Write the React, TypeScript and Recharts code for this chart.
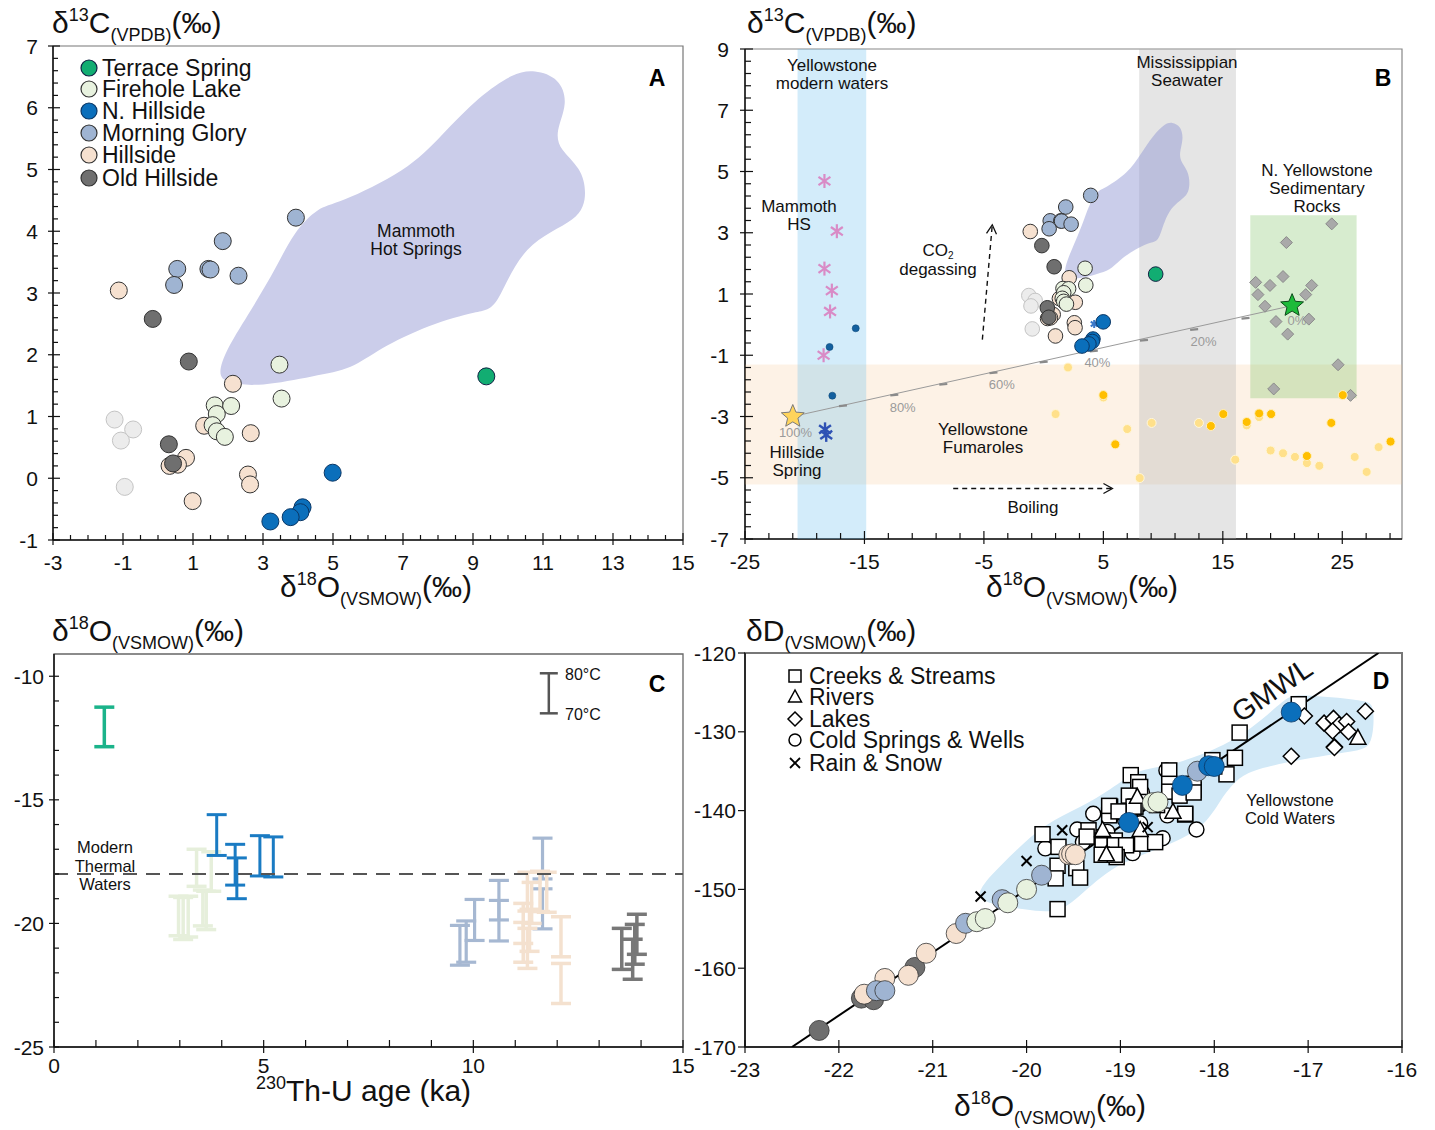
import React from 'react';
import { ScatterChart, Scatter, XAxis, YAxis, ErrorBar, ReferenceArea } from 'recharts';

const FONT = '"Liberation Sans", Arial, Helvetica, sans-serif';

// ---------------- Panel A / B shared data: d18O (x) vs d13C (y) ----------------
const terrace = [[9.38, 1.65]];
const firehole = [[3.47, 1.84], [3.53, 1.29], [1.62, 1.18], [2.09, 1.17], [1.68, 1.04], [1.56, 0.86], [1.68, 0.76], [1.91, 0.67]];
const nHillside = [[4.99, 0.09], [4.13, -0.47], [4.07, -0.55], [3.79, -0.63], [3.21, -0.7]];
const morningGlory = [[3.94, 4.22], [1.85, 3.84], [0.55, 3.39], [1.44, 3.39], [1.5, 3.38], [2.3, 3.28], [0.46, 3.13]];
const hillside = [[-1.12, 3.04], [2.14, 1.53], [1.32, 0.85], [2.65, 0.73], [0.8, 0.33], [0.33, 0.2], [0.57, 0.22], [2.57, 0.06], [2.63, -0.1], [0.99, -0.37]];
const oldHillside = [[-0.15, 2.58], [0.88, 1.89], [0.31, 0.55], [0.43, 0.24]];
const otherSamples = [[-1.24, 0.95], [-0.71, 0.79], [-1.06, 0.61], [-0.95, -0.14]];
const mammothField = [[1.7, 1.68], [1.95, 2.09], [2.67, 2.73], [3.39, 3.42], [3.88, 3.99], [4.6, 4.4], [5.08, 4.43], [7.13, 4.98], [8.1, 5.55], [9.18, 6.19], [10.15, 6.56], [10.75, 6.62], [11.48, 6.48], [11.72, 6.07], [11.35, 5.61], [11.48, 5.32], [12.08, 5.03], [12.26, 4.63], [12.08, 4.17], [10.39, 3.82], [9.67, 2.72], [9.18, 2.72], [7.74, 2.49], [6.29, 2.09], [5.56, 1.77], [4.48, 1.66], [2.91, 1.48], [1.95, 1.54]];

// ---------------- Panel B extra data ----------------
const bandModernWaters = [[-20.6, -7], [-14.85, -7], [-14.85, 9], [-20.6, 9]];
const bandSeawater = [[8.0, -7], [16.1, -7], [16.1, 9], [8.0, 9]];
const bandFumaroles = [[-25, -5.22], [30, -5.22], [30, -1.3], [-25, -1.3]];
const boxSedimentary = [[17.3, -2.4], [26.2, -2.4], [26.2, 3.57], [17.3, 3.57]];
const mammothHS = [[-18.35, 4.69], [-17.31, 3.05], [-18.35, 1.83], [-17.73, 1.11], [-17.88, 0.43], [-18.42, -1.0]];
const smallBlue = [[-15.73, -0.12], [-17.92, -0.73], [-17.69, -2.32]];
const hillsideSpring = [[-18.3, -3.42], [-18.2, -3.6]];
const blueStar = [[4.23, 0.02]];
const fumarolesPale = [[2.04, -1.4], [5.0, -2.38], [1.0, -2.92], [7.0, -3.41], [9.04, -3.21], [13.0, -3.21], [17.0, -3.29], [18.04, -3.02], [16.04, -4.41], [8.04, -5.01], [19.0, -4.11], [20.04, -4.2], [21.04, -4.32], [22.04, -4.52], [23.08, -4.61], [26.04, -4.32], [27.04, -4.81], [28.04, -4.0]];
const fumarolesOrange = [[5.0, -2.3], [6.0, -3.91], [14.0, -3.31], [15.04, -2.92], [17.0, -3.18], [18.04, -2.9], [19.04, -2.92], [24.08, -3.21], [25.04, -2.3], [22.04, -4.29], [29.04, -3.82]];
const sedimentaryRocks = [[24.12, 3.29], [20.32, 2.68], [20.04, 1.57], [17.75, 1.38], [18.95, 1.28], [22.44, 1.28], [17.94, 0.98], [21.94, 0.98], [18.53, 0.6], [22.2, 0.18], [19.45, 0.1], [20.43, -0.31], [24.65, -1.31], [19.26, -2.1], [25.69, -2.31]];
const endHillside = [[-21.0, -3.0]];
const endSediment = [[20.8, 0.62]];
const mixLine = [[-21.0, -3.0], [20.8, 0.62]];
const mixTicks = [[-16.8, -2.65], [-12.5, -2.3], [-8.4, -1.95], [-4.2, -1.57], [0, -1.22], [4.2, -0.86], [8.4, -0.51], [12.6, -0.16], [16.9, 0.21]];
const mixLabelX = [-20.77, -11.8, -3.5, 4.5, 13.38, 21.2];
const mixLabelY = [-3.52, -2.71, -1.97, -1.25, -0.56, 0.15];
const mixLabelText = ['100%', '80%', '60%', '40%', '20%', '0%'];
const arrowCO2 = [[-5.13, -0.49], [-4.3, 3.26]];
const arrowBoiling = [[-7.57, -5.35], [5.76, -5.35]];

// ---------------- Panel C data: [age ka, upper d18O, lower d18O] ----------------
const cTerrace = [[1.2, -11.25, -12.85]];
const cFirehole = [[3.4, -17.0, -18.5], [3.75, -17.1, -18.7], [2.97, -18.9, -20.5], [3.08, -18.95, -20.65], [3.2, -18.9, -20.55], [3.55, -18.65, -20.1], [3.63, -18.7, -20.25]];
const cNHillside = [[3.88, -15.6, -17.25], [4.32, -16.8, -18.45], [4.36, -17.35, -19.0], [4.91, -16.45, -18.08], [5.23, -16.5, -18.12]];
const cMorningGlory = [[9.68, -20.08, -21.69], [9.83, -19.9, -21.57], [10.03, -19.03, -20.69], [10.61, -18.26, -19.86], [10.61, -19.07, -20.71], [11.65, -16.55, -18.2], [11.65, -18.6, -20.22]];
const cHillside = [[11.19, -19.19, -20.81], [11.19, -19.96, -21.57], [11.29, -17.93, -19.5], [11.29, -20.2, -21.82], [11.39, -18.34, -20.0], [11.59, -17.89, -19.52], [11.75, -17.93, -19.55], [12.09, -19.73, -21.35], [12.09, -21.62, -23.24], [11.34, -19.43, -21.13]];
const cOldHillside = [[13.54, -20.2, -21.86], [13.9, -19.63, -21.25], [13.85, -20.04, -21.65], [13.8, -20.64, -22.26]];
const cScaleBar = [[11.8, -9.88, -11.5]];
const modernThermal = -18.0;

// ---------------- Panel D data: d18O (x) vs dD (y) ----------------
const creeks = [[-17.73, -130.1], [-17.78, -133.3], [-17.1, -126.5], [-17.87, -135.4], [-18.31, -140.5], [-18.22, -137.4], [-18.22, -136.6], [-18.02, -133.6], [-18.48, -134.9], [-18.48, -136.6], [-18.48, -137.6], [-18.37, -138.1], [-18.89, -135.5], [-18.81, -136.4], [-18.79, -137.0], [-18.91, -138.1], [-18.84, -139.5], [-19.11, -139.5], [-19.01, -140.2], [-19.12, -140.6], [-18.61, -139.3], [-19.83, -143.0], [-19.34, -142.5], [-19.36, -143.3], [-19.19, -143.8], [-19.19, -144.4], [-19.06, -143.8], [-19.06, -144.4], [-18.94, -144.4], [-18.77, -144.2], [-18.63, -144.0], [-19.66, -144.6], [-19.67, -147.0], [-19.69, -148.6], [-19.47, -147.3], [-19.43, -148.5], [-19.67, -152.5], [-19.04, -145.9], [-19.2, -145.6], [-19.06, -145.6], [-18.86, -139.5], [-18.22, -137.7], [-18.31, -140.4], [-19.12, -139.4], [-19.02, -140.1], [-18.0, -134.4]];
const rivers = [[-18.44, -140.2], [-19.15, -145.6], [-19.19, -142.5], [-18.79, -142.5], [-18.82, -138.3], [-16.47, -130.8]];
const lakes = [[-17.04, -128.0], [-16.83, -128.9], [-16.73, -128.3], [-16.67, -129.1], [-16.59, -128.7], [-16.74, -129.9], [-16.57, -130.0], [-16.39, -127.4], [-17.18, -133.1], [-16.72, -131.9], [-16.72, -132.0]];
const coldSprings = [[-19.29, -140.4], [-19.46, -142.4], [-19.8, -144.8], [-18.19, -142.4], [-18.55, -143.5], [-18.87, -145.4], [-18.79, -141.6], [-18.77, -137.7], [-18.5, -140.6], [-19.14, -142.7], [-19.22, -143.3], [-18.51, -134.9], [-19.4, -144.0], [-18.95, -141.2]];
const rainSnow = [[-20.49, -150.9], [-20.0, -146.4], [-19.62, -142.5], [-18.71, -142.1]];
const dOldHillside = [[-22.21, -167.9], [-21.76, -163.8], [-21.63, -164.0], [-21.19, -159.9]];
const dHillside = [[-21.73, -163.3], [-21.51, -161.3], [-21.26, -160.9], [-21.07, -158.1], [-20.75, -155.6], [-19.55, -145.6], [-19.52, -145.5], [-19.48, -145.6]];
const dMorningGlory = [[-21.6, -162.85], [-21.51, -162.85], [-20.65, -154.3], [-20.26, -151.3], [-19.84, -148.2], [-18.18, -135.0]];
const dFirehole = [[-20.53, -154.1], [-20.44, -153.7], [-20.2, -151.7], [-20.0, -150.0], [-18.66, -139.0], [-18.6, -138.9]];
const dNHillside = [[-18.91, -141.5], [-18.34, -136.8], [-18.06, -134.3], [-18.0, -134.4], [-17.18, -127.5]];
const gmwl = [[-22.5, -170], [-16.25, -120]];
const coldWatersField = [[-20.55, -150.9], [-20.4, -148.4], [-20.11, -145.0], [-19.81, -141.7], [-19.41, -139.5], [-19.11, -137.4], [-18.81, -134.7], [-18.52, -134.5], [-18.22, -133.2], [-18.02, -132.4], [-17.62, -129.9], [-17.23, -125.6], [-17.13, -125.2], [-16.38, -126.0], [-16.29, -126.5], [-16.31, -132.0], [-16.48, -132.4], [-17.13, -133.6], [-17.62, -134.9], [-17.77, -136.2], [-17.92, -138.3], [-18.12, -142.5], [-18.62, -145.0], [-19.11, -147.1], [-19.51, -151.8], [-19.71, -153.0], [-20.01, -152.6], [-20.4, -151.8]];

// ---------------- Axis tick labels ----------------
const aXMajor = [-3, -1, 1, 3, 5, 7, 9, 11, 13, 15];
const aYMajor = [-1, 0, 1, 2, 3, 4, 5, 6, 7];
const bXMajor = [-25, -15, -5, 5, 15, 25];
const bYMajor = [-7, -5, -3, -1, 1, 3, 5, 7, 9];
const cXMajor = [0, 5, 10, 15];
const cYMajor = [-25, -20, -15, -10];
const dXMajor = [-23, -22, -21, -20, -19, -18, -17, -16];
const dYMajor = [-170, -160, -150, -140, -130, -120];

// ---------------- colours ----------------
const C = {
  terrace: '#12ad72', firehole: '#e8f2df', nHill: '#0b6fbb', morning: '#9fb4d2', hill: '#f6e1d0', old: '#6f6f6f', other: '#ececec',
};

const xy = (arr: number[][]) => arr.map(([x, y]) => ({ x, y }));
const bars = (arr: number[][]) => arr.map(([x, hi, lo]) => ({ x, y: (hi + lo) / 2, err: (hi - lo) / 2 }));
const steps = (a: number, b: number, s: number) => { const out: number[] = []; for (let v = a; v <= b + 1e-9; v += s) out.push(Math.round(v * 1000) / 1000); return out; };
const fmt = (v: number) => String(Math.round(v * 100) / 100);

// ---------------- shapes ----------------
const none = () => <g />;
const dot = (r: number, fill: string, stroke: string, sw = 1) => (p: any) => <circle cx={p.cx} cy={p.cy} r={r} fill={fill} stroke={stroke} strokeWidth={sw} />;
const square = (s: number) => (p: any) => <rect x={p.cx - s / 2} y={p.cy - s / 2} width={s} height={s} fill="#fff" stroke="#000" strokeWidth={1.5} />;
const triangle = (s: number) => (p: any) => <polygon points={`${p.cx},${p.cy - s * 0.55} ${p.cx - s / 2},${p.cy + s * 0.38} ${p.cx + s / 2},${p.cy + s * 0.38}`} fill="#fff" stroke="#000" strokeWidth={1.5} />;
const diamond = (s: number, fill: string, stroke: string, sw: number) => (p: any) => <polygon points={`${p.cx},${p.cy - s} ${p.cx + s},${p.cy} ${p.cx},${p.cy + s} ${p.cx - s},${p.cy}`} fill={fill} stroke={stroke} strokeWidth={sw} />;
const cross = (s: number, color: string, sw: number) => (p: any) => (
  <g stroke={color} strokeWidth={sw}>
    <line x1={p.cx - s} y1={p.cy - s} x2={p.cx + s} y2={p.cy + s} />
    <line x1={p.cx - s} y1={p.cy + s} x2={p.cx + s} y2={p.cy - s} />
  </g>
);
const asterisk = (s: number, color: string, sw: number) => (p: any) => (
  <g stroke={color} strokeWidth={sw}>
    <line x1={p.cx} y1={p.cy - s} x2={p.cx} y2={p.cy + s} />
    <line x1={p.cx - s * 0.85} y1={p.cy - s * 0.6} x2={p.cx + s * 0.85} y2={p.cy + s * 0.6} />
    <line x1={p.cx - s * 0.85} y1={p.cy + s * 0.6} x2={p.cx + s * 0.85} y2={p.cy - s * 0.6} />
  </g>
);
const starPts = (cx: number, cy: number, R: number) => {
  const pts: string[] = [];
  for (let i = 0; i < 10; i++) {
    const a = (-90 + i * 36) * Math.PI / 180;
    const r = i % 2 ? R * 0.45 : R;
    pts.push(`${cx + r * Math.cos(a)},${cy + r * Math.sin(a)}`);
  }
  return pts.join(' ');
};
const star = (R: number, fill: string, stroke: string) => (p: any) => <polygon points={starPts(p.cx, p.cy, R)} fill={fill} stroke={stroke} strokeWidth={1} />;
const dash = (p: any) => <line x1={p.cx - 4} x2={p.cx + 4} y1={p.cy + 0.35} y2={p.cy - 0.35} stroke="#8a8a8a" strokeWidth={2.2} />;
const pctLabel = (p: any) => <text x={p.cx} y={p.cy + 4.5} textAnchor="middle" fontSize={13} fontFamily={FONT} fill="#9a9a9a">{p.payload.t}</text>;
const arrowLine = (p: any) => {
  const pts = p.points || [];
  if (pts.length < 2) return <g />;
  const [a, b] = pts;
  const ang = Math.atan2(b.y - a.y, b.x - a.x);
  const L = 9, W = 5;
  const hx = b.x - L * Math.cos(ang), hy = b.y - L * Math.sin(ang);
  const nx = -Math.sin(ang), ny = Math.cos(ang);
  return (
    <g>
      <line x1={a.x} y1={a.y} x2={b.x} y2={b.y} stroke="#111" strokeWidth={1.4} strokeDasharray="5 4" />
      <polyline points={`${hx + nx * W},${hy + ny * W} ${b.x},${b.y} ${hx - nx * W},${hy - ny * W}`} fill="none" stroke="#111" strokeWidth={1.3} />
    </g>
  );
};

// ---------------- ticks ----------------
type TickOpt = { out: number; inn: number; minor: number; d: number; fs: number };
const xTick = (majors: number[], o: TickOpt) => (props: any) => {
  const { x, y, payload } = props;
  const v = payload.value;
  const M = majors.some((m) => Math.abs(m - v) < 1e-6);
  return (
    <g>
      <line x1={x} x2={x} y1={y + (M ? o.out : 0)} y2={y - (M ? o.inn : o.minor)} stroke="#111" strokeWidth={1.2} />
      {M && <text x={x} y={y + o.d} textAnchor="middle" fontSize={o.fs} fontFamily={FONT} fill="#111">{fmt(v)}</text>}
    </g>
  );
};
const yTick = (majors: number[], o: TickOpt) => (props: any) => {
  const { x, y, payload } = props;
  const v = payload.value;
  const M = majors.some((m) => Math.abs(m - v) < 1e-6);
  return (
    <g>
      <line x1={x - (M ? o.out : 0)} x2={x + (M ? o.inn : o.minor)} y1={y} y2={y} stroke="#111" strokeWidth={1.2} />
      {M && <text x={x - o.d} y={y + o.fs * 0.36} textAnchor="end" fontSize={o.fs} fontFamily={FONT} fill="#111">{fmt(v)}</text>}
    </g>
  );
};

const YW = 60, MT = 10, MR = 30, XH = 60;
type Geo = { l: number; t: number; r: number; b: number };
const GA: Geo = { l: 53, t: 46, r: 683, b: 540 };
const GB: Geo = { l: 745, t: 49, r: 1402, b: 539 };
const GC: Geo = { l: 54, t: 654, r: 683, b: 1047 };
const GD: Geo = { l: 745, t: 653, r: 1402, b: 1047 };

const box = (g: Geo): React.CSSProperties => ({ position: 'absolute', left: g.l - YW, top: g.t - MT });
const size = (g: Geo) => ({ width: g.r - g.l + YW + MR, height: g.b - g.t + MT + XH, margin: { top: MT, right: MR, bottom: 0, left: 0 } });
const xProps = (domain: number[], ticks: number[], tick: any) => ({
  type: 'number' as const, dataKey: 'x', domain, ticks, interval: 0 as const, allowDataOverflow: true, tickLine: false, tickSize: 0, tickMargin: 0, tick,
  axisLine: { stroke: '#111', strokeWidth: 1.5 }, height: XH,
});
const yProps = (domain: number[], ticks: number[], tick: any) => ({
  type: 'number' as const, dataKey: 'y', domain, ticks, interval: 0 as const, allowDataOverflow: true, tickLine: false, tickSize: 0, tickMargin: 0, tick,
  axisLine: { stroke: '#111', strokeWidth: 1.5 }, width: YW,
});

const polyLine = (fill: string, type: any = 'basisClosed', opacity = 1) => ({ line: { fill, stroke: 'none', fillOpacity: opacity } as any, lineJointType: type });

// shared A/B point series
function abSeries(r: number) {
  return [
    <Scatter key="o" data={xy(otherSamples)} shape={dot(r, C.other, '#c4c4c4')} isAnimationActive={false} />,
    <Scatter key="h" data={xy(hillside)} shape={dot(r, C.hill, '#333')} isAnimationActive={false} />,
    <Scatter key="f" data={xy(firehole)} shape={dot(r, C.firehole, '#333')} isAnimationActive={false} />,
    <Scatter key="m" data={xy(morningGlory)} shape={dot(r, C.morning, '#333')} isAnimationActive={false} />,
    <Scatter key="oh" data={xy(oldHillside)} shape={dot(r, C.old, '#333')} isAnimationActive={false} />,
    <Scatter key="n" data={xy(nHillside)} shape={dot(r, C.nHill, '#0a3766')} isAnimationActive={false} />,
    <Scatter key="t" data={xy(terrace)} shape={dot(r, C.terrace, '#124')} isAnimationActive={false} />,
  ];
}

function PanelA() {
  return (
    <div style={box(GA)}>
      <ScatterChart {...size(GA)}>
        <XAxis {...xProps([-3, 15], steps(-3, 15, 0.5), xTick(aXMajor, { out: 5, inn: 7, minor: 5, d: 30, fs: 21 }))} />
        <YAxis {...yProps([-1, 7], steps(-1, 7, 0.2), yTick(aYMajor, { out: 5, inn: 7, minor: 5, d: 15, fs: 21 }))} />
        <ReferenceArea x1={-3} x2={15} y1={-1} y2={7} fill="none" stroke="#777" strokeWidth={1.2} />
        <Scatter data={xy(mammothField)} shape={none} {...polyLine('#cbcdea')} isAnimationActive={false} />
        {abSeries(8.5)}
      </ScatterChart>
    </div>
  );
}

function PanelB() {
  const pct = mixLabelX.map((x, i) => ({ x, y: mixLabelY[i], t: mixLabelText[i] }));
  return (
    <div style={box(GB)}>
      <ScatterChart {...size(GB)}>
        <XAxis {...xProps([-25, 30], steps(-25, 29, 2), xTick(bXMajor, { out: 5, inn: 8, minor: 6, d: 30, fs: 21 }))} />
        <YAxis {...yProps([-7, 9], steps(-7, 9, 0.4), yTick(bYMajor, { out: 5, inn: 8, minor: 6, d: 16, fs: 21 }))} />
        <ReferenceArea x1={-25} x2={30} y1={-7} y2={9} fill="none" stroke="#888" strokeWidth={1.2} />
        <Scatter data={xy(bandFumaroles)} shape={none} {...polyLine('#f5c080', 'linearClosed', 0.2)} isAnimationActive={false} />
        <Scatter data={xy(bandModernWaters)} shape={none} {...polyLine('#6cc0ee', 'linearClosed', 0.3)} isAnimationActive={false} />
        <Scatter data={xy(bandSeawater)} shape={none} {...polyLine('#b0b0b0', 'linearClosed', 0.33)} isAnimationActive={false} />
        <Scatter data={xy(boxSedimentary)} shape={none} {...polyLine('#7cc060', 'linearClosed', 0.3)} isAnimationActive={false} />
        <Scatter data={xy(mammothField)} shape={none} {...polyLine('#8a90d0', 'basisClosed', 0.45)} isAnimationActive={false} />
        <Scatter data={xy(mixLine)} shape={none} line={{ stroke: '#9a9a9a', strokeWidth: 1 }} isAnimationActive={false} />
        <Scatter data={xy(mixTicks)} shape={dash} isAnimationActive={false} />
        <Scatter data={pct} shape={pctLabel} isAnimationActive={false} />
        <Scatter data={xy(arrowCO2)} shape={none} line={arrowLine} isAnimationActive={false} />
        <Scatter data={xy(arrowBoiling)} shape={none} line={arrowLine} isAnimationActive={false} />
        <Scatter data={xy(sedimentaryRocks)} shape={diamond(6, '#a9a9a9', '#8a8a8a', 1)} isAnimationActive={false} />
        <Scatter data={xy(fumarolesPale)} shape={dot(4.5, '#ffe08a', '#fff7dc', 1)} isAnimationActive={false} />
        <Scatter data={xy(fumarolesOrange)} shape={dot(4.5, '#ffbf00', '#fff0c0', 1)} isAnimationActive={false} />
        <Scatter data={xy(mammothHS)} shape={asterisk(7, '#d98bc6', 2.2)} isAnimationActive={false} />
        <Scatter data={xy(smallBlue)} shape={dot(3.5, '#13609f', '#0d4a7a', 0.6)} isAnimationActive={false} />
        <Scatter data={xy(hillsideSpring)} shape={asterisk(7, '#2f52b4', 2.4)} isAnimationActive={false} />
        <Scatter data={xy(blueStar)} shape={asterisk(4, '#3b78c8', 2)} isAnimationActive={false} />
        {abSeries(7.3)}
        <Scatter data={xy(endHillside)} shape={star(12, '#ffd45c', '#7a7a7a')} isAnimationActive={false} />
        <Scatter data={xy(endSediment)} shape={star(12, '#1dbb3a', '#0c4a1a')} isAnimationActive={false} />
      </ScatterChart>
    </div>
  );
}

function PanelC() {
  const eb = (data: number[][], color: string, sw: number, w = 10) => (
    <Scatter data={bars(data)} shape={none} isAnimationActive={false}>
      <ErrorBar dataKey="err" direction="y" width={w} stroke={color} strokeWidth={sw} />
    </Scatter>
  );
  return (
    <div style={box(GC)}>
      <ScatterChart {...size(GC)}>
        <XAxis {...xProps([0, 15], steps(0, 15, 1), xTick(cXMajor, { out: 6, inn: 7, minor: 7, d: 26, fs: 21 }))} />
        <YAxis {...yProps([-25, -9.1], steps(-25, -10, 1), yTick(cYMajor, { out: 5, inn: 5, minor: 5, d: 10, fs: 21 }))} />
        <ReferenceArea x1={0} x2={15} y1={-25} y2={-9.1} fill="none" stroke="#666" strokeWidth={1.3} />
        <Scatter data={[{ x: 0, y: modernThermal }, { x: 15, y: modernThermal }]} shape={none} line={{ stroke: '#555', strokeWidth: 2, strokeDasharray: '14 9' }} isAnimationActive={false} />
        {eb(cFirehole, '#e6efdb', 3.5)}
        {eb(cNHillside, '#1a7bc3', 3)}
        {eb(cMorningGlory, '#a6b8d2', 3.2)}
        {eb(cHillside, '#f4e1cf', 3.5)}
        {eb(cOldHillside, '#787878', 3.5)}
        {eb(cTerrace, '#1bb38a', 3.5)}
        {eb(cScaleBar, '#555', 2.5, 9)}
      </ScatterChart>
    </div>
  );
}

function PanelD() {
  return (
    <div style={box(GD)}>
      <ScatterChart {...size(GD)}>
        <XAxis {...xProps([-23, -16], dXMajor, xTick(dXMajor, { out: 6, inn: 7, minor: 0, d: 30, fs: 21 }))} />
        <YAxis {...yProps([-170, -120], dYMajor, yTick(dYMajor, { out: 7, inn: 0, minor: 0, d: 9, fs: 21 }))} />
        <ReferenceArea x1={-23} x2={-16} y1={-170} y2={-120} fill="none" stroke="#777" strokeWidth={2} />
        <Scatter data={xy(coldWatersField)} shape={none} {...polyLine('#d2e9f7')} isAnimationActive={false} />
        <Scatter data={xy(gmwl)} shape={none} line={{ stroke: '#000', strokeWidth: 2 }} isAnimationActive={false} />
        <Scatter data={xy(coldSprings)} shape={dot(7.5, '#fff', '#000', 1.4)} isAnimationActive={false} />
        <Scatter data={xy(creeks)} shape={square(15)} isAnimationActive={false} />
        <Scatter data={xy(rivers)} shape={triangle(16)} isAnimationActive={false} />
        <Scatter data={xy(lakes)} shape={diamond(8, '#fff', '#000', 1.5)} isAnimationActive={false} />
        <Scatter data={xy(rainSnow)} shape={cross(5, '#000', 2)} isAnimationActive={false} />
        <Scatter data={xy(dOldHillside)} shape={dot(10, C.old, '#333', 0.8)} isAnimationActive={false} />
        <Scatter data={xy(dHillside)} shape={dot(10, C.hill, '#333', 0.8)} isAnimationActive={false} />
        <Scatter data={xy(dMorningGlory)} shape={dot(10, C.morning, '#333', 0.8)} isAnimationActive={false} />
        <Scatter data={xy(dFirehole)} shape={dot(10, C.firehole, '#333', 0.8)} isAnimationActive={false} />
        <Scatter data={xy(dNHillside)} shape={dot(10, C.nHill, '#0a3766', 0.8)} isAnimationActive={false} />
      </ScatterChart>
    </div>
  );
}

// ---------------- text overlay ----------------
type Part = [string, 'n' | 'sup' | 'sub'];
function Iso({ x, y, parts, big = 30, small = 18 }: { x: number; y: number; parts: Part[]; big?: number; small?: number }) {
  let shift = 0;
  return (
    <text x={x} y={y} fontSize={big} fontFamily={FONT} fill="#111">
      {parts.map(([t, k], i) => {
        const target = k === 'sup' ? -big * 0.4 : k === 'sub' ? big * 0.28 : 0;
        const dy = target - shift;
        shift = target;
        return <tspan key={i} dy={dy} fontSize={k === 'n' ? big : small}>{t}</tspan>;
      })}
    </text>
  );
}
function Lines({ x, y, lines, fs = 17, lh = 18, anchor = 'middle', fill = '#111' }: any) {
  return (
    <text x={x} y={y} fontSize={fs} fontFamily={FONT} textAnchor={anchor} fill={fill}>
      {lines.map((l: string, i: number) => <tspan key={i} x={x} dy={i === 0 ? 0 : lh}>{l}</tspan>)}
    </text>
  );
}

const legendA: [string, string, string][] = [
  ['Terrace Spring', C.terrace, '#124'], ['Firehole Lake', C.firehole, '#333'], ['N. Hillside', C.nHill, '#0a3766'],
  ['Morning Glory', C.morning, '#333'], ['Hillside', C.hill, '#333'], ['Old Hillside', C.old, '#333'],
];
const legendD = ['Creeks & Streams', 'Rivers', 'Lakes', 'Cold Springs & Wells', 'Rain & Snow'];

function Overlay() {
  const d13 = (x: number, y: number) => <Iso x={x} y={y} parts={[['δ', 'n'], ['13', 'sup'], ['C', 'n'], ['(VPDB)', 'sub'], ['(‰)', 'n']]} />;
  const d18 = (x: number, y: number) => <Iso x={x} y={y} parts={[['δ', 'n'], ['18', 'sup'], ['O', 'n'], ['(VSMOW)', 'sub'], ['(‰)', 'n']]} />;
  const ly = [68, 89, 111, 133, 155, 178];
  const dy = [676, 697, 719, 740, 763];
  return (
    <svg width={1435} height={1130} style={{ position: 'absolute', left: 0, top: 0, pointerEvents: 'none' }}>
      {d13(52, 33)}
      {d13(747, 33)}
      {d18(280, 597)}
      {d18(986, 597)}
      {d18(52, 641)}
      <Iso x={746} y={641} parts={[['δD', 'n'], ['(VSMOW)', 'sub'], ['(‰)', 'n']]} />
      {d18(954, 1116)}
      <Iso x={256} y={1101} parts={[['230', 'sup'], ['Th-U age (ka)', 'n']]} />

      {/* Panel A */}
      {legendA.map(([t, f, s], i) => (
        <g key={t}>
          <circle cx={89} cy={ly[i]} r={8} fill={f} stroke={s} strokeWidth={1.2} />
          <text x={102} y={ly[i] + 8} fontSize={23} fontFamily={FONT} fill="#111">{t}</text>
        </g>
      ))}
      <Lines x={416} y={237} lines={['Mammoth', 'Hot Springs']} fs={17.5} lh={18} />
      <text x={657} y={86} fontSize={23} fontWeight="bold" fontFamily={FONT} textAnchor="middle">A</text>

      {/* Panel B */}
      <Lines x={832} y={71} lines={['Yellowstone', 'modern waters']} />
      <Lines x={1187} y={68} lines={['Mississippian', 'Seawater']} />
      <text x={1383} y={86} fontSize={23} fontWeight="bold" fontFamily={FONT} textAnchor="middle">B</text>
      <Lines x={1317} y={176} lines={['N. Yellowstone', 'Sedimentary', 'Rocks']} />
      <Lines x={799} y={212} lines={['Mammoth', 'HS']} />
      <text x={938} y={256} fontSize={17} fontFamily={FONT} textAnchor="middle" fill="#111">CO<tspan fontSize={10} dy={3}>2</tspan></text>
      <Lines x={938} y={275} lines={['degassing']} />
      <Lines x={983} y={435} lines={['Yellowstone', 'Fumaroles']} />
      <Lines x={797} y={458} lines={['Hillside', 'Spring']} />
      <Lines x={1033} y={513} lines={['Boiling']} />

      {/* Panel C */}
      <text x={565} y={680} fontSize={16} fontFamily={FONT} fill="#111">80°C</text>
      <text x={565} y={720} fontSize={16} fontFamily={FONT} fill="#111">70°C</text>
      <text x={657} y={692} fontSize={23} fontWeight="bold" fontFamily={FONT} textAnchor="middle">C</text>
      <Lines x={105} y={853} lines={['Modern', 'Thermal', 'Waters']} fs={16.5} lh={18.5} />

      {/* Panel D */}
      {legendD.map((t, i) => {
        const cx = 795, cy = dy[i];
        let g: any;
        if (i === 0) g = <rect x={cx - 6} y={cy - 6} width={12} height={12} fill="#fff" stroke="#000" strokeWidth={1.5} />;
        else if (i === 1) g = <polygon points={`${cx},${cy - 7} ${cx - 6.5},${cy + 5} ${cx + 6.5},${cy + 5}`} fill="#fff" stroke="#000" strokeWidth={1.5} />;
        else if (i === 2) g = <polygon points={`${cx},${cy - 7} ${cx + 7},${cy} ${cx},${cy + 7} ${cx - 7},${cy}`} fill="#fff" stroke="#000" strokeWidth={1.5} />;
        else if (i === 3) g = <circle cx={cx} cy={cy} r={6} fill="#fff" stroke="#000" strokeWidth={1.5} />;
        else g = <g stroke="#000" strokeWidth={1.8}><line x1={cx - 5} y1={cy - 5} x2={cx + 5} y2={cy + 5} /><line x1={cx - 5} y1={cy + 5} x2={cx + 5} y2={cy - 5} /></g>;
        return <g key={t}>{g}<text x={809} y={cy + 8} fontSize={23} fontFamily={FONT} fill="#111">{t}</text></g>;
      })}
      <text x={1272} y={700} fontSize={29} fontFamily={FONT} textAnchor="middle" transform="rotate(-34 1272 690)" fill="#111">GMWL</text>
      <text x={1381} y={689} fontSize={23} fontWeight="bold" fontFamily={FONT} textAnchor="middle">D</text>
      <Lines x={1290} y={806} lines={['Yellowstone', 'Cold Waters']} fs={16.5} lh={18} />
    </svg>
  );
}

export default function App() {
  return (
    <div style={{ position: 'absolute', left: 0, top: 0, width: 1435, height: 1130, background: '#fff', fontFamily: FONT }}>
      <PanelA />
      <PanelB />
      <PanelC />
      <PanelD />
      <Overlay />
    </div>
  );
}
